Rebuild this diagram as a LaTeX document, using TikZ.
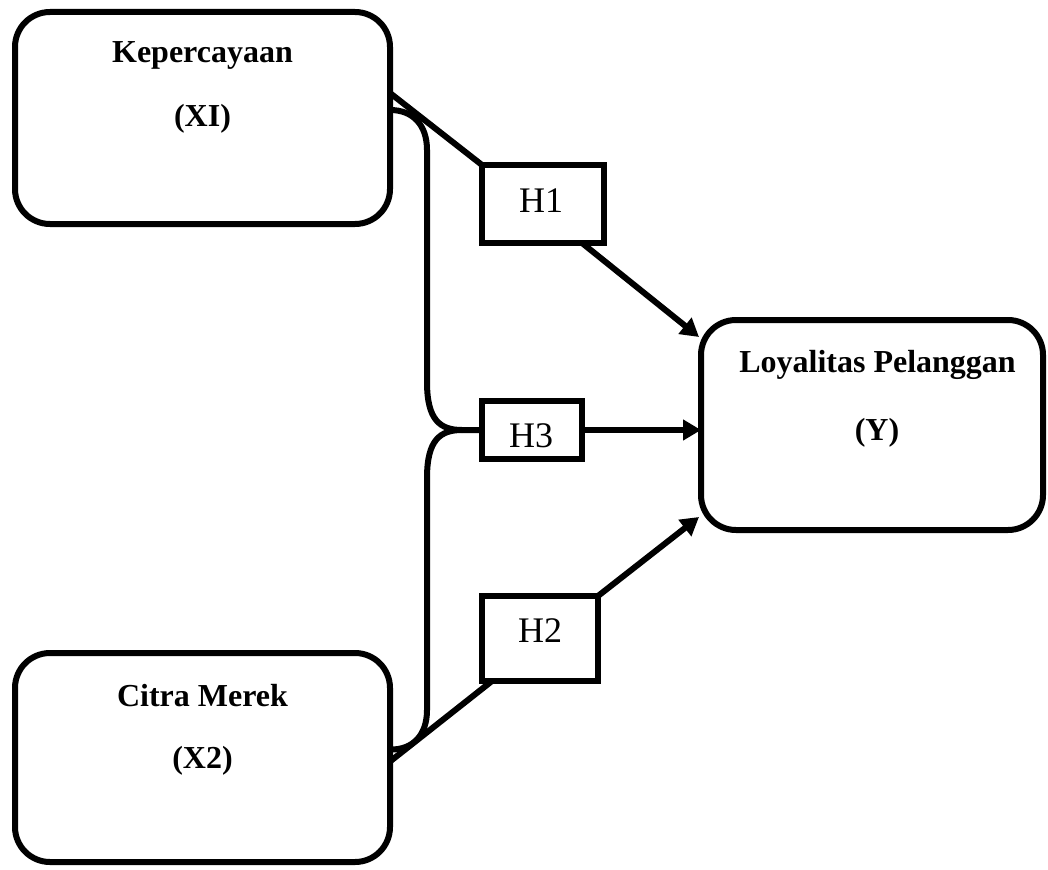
\documentclass[tikz,border=0pt]{standalone}
\usepackage{fontspec}
\setmainfont{Liberation Serif}
\usetikzlibrary{arrows.meta,calc}
\begin{document}
\begin{tikzpicture}[x=1pt,y=-1pt, line width=6pt,
  bigbox/.style={draw, rounded corners=35pt, inner sep=0pt, outer sep=0pt},
  hbox/.style={draw, inner sep=0pt, outer sep=0pt},
  btxt/.style={font=\fontsize{32}{38}\selectfont\bfseries, anchor=base, inner sep=0pt},
  htxt/.style={font=\fontsize{36}{42}\selectfont, anchor=base, inner sep=0pt},
  arr/.style={-{Triangle[length=18pt,width=20pt]}}]
\useasboundingbox (0,0) rectangle (1048,869);

% main boxes
\node[bigbox, minimum width=375pt, minimum height=212pt] (X1) at (202.5,118) {};
\node[bigbox, minimum width=375pt, minimum height=209pt] (X2) at (202.5,757.5) {};
\node[bigbox, minimum width=342pt, minimum height=210pt] (Y) at (872,425) {};

% hypothesis boxes
\node[hbox, minimum width=122pt, minimum height=78pt] (H1) at (543,204) {};
\node[hbox, minimum width=100pt, minimum height=58pt] (H3) at (532,430) {};
\node[hbox, minimum width=116pt, minimum height=85pt] (H2) at (540,638.5) {};

% texts
\node[btxt] (tX1a) at (202.5,63) {Kepercayaan};
\node[btxt] (tX1b) at (202.5,127) {(XI)};
\node[btxt] (tX2a) at (202.5,706) {Citra Merek};
\node[btxt] (tX2b) at (202.5,768) {(X2)};
\node[btxt] (tYa) at (877.5,372) {Loyalitas Pelanggan};
\node[btxt] (tYb) at (877,440) {(Y)};
\node[htxt] (tH1) at (541,212) {H1};
\node[htxt] (tH3) at (531,447) {H3};
\node[htxt] (tH2) at (540,642) {H2};

% connectors
\draw ($(X1.east)+(0,-25)$) -- (H1.north west);
\draw ($(X2.east)+(0,4)$) -- ($(H2.south west)+(10,0)$);
\draw[arr] ($(H1.south)+(39,0)$) -- ($(Y.west)+(-2,-88)$);
\draw[arr] (H3.east) -- (H3.east -| Y.west);
\draw[arr] (H2.north east) -- ($(Y.west)+(-2,92)$);

% joining curves to H3
\coordinate (J) at ($(H3.west)+(-20,0)$);
\draw ($(X1.east)+(0,-8)$) .. controls (413,110) and (427,125) .. (427,150)
      -- (427,382) .. controls (427,420) and (440,430) .. (J) -- (H3.west);
\draw ($(X2.east)+(0,-8)$) .. controls (413,750) and (427,735) .. (427,710)
      -- (427,478) .. controls (427,440) and (440,430) .. (J);
\end{tikzpicture}
\end{document}
